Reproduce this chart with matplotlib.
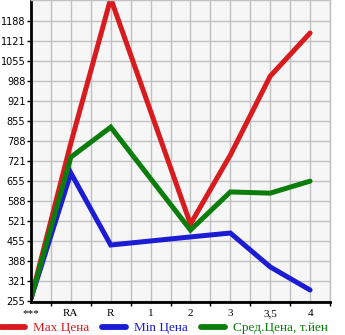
import matplotlib.pyplot as plt
import numpy as np

categories = ["***", "RA", "R", "1", "2", "3", "3,5", "4"]
max_price = [262, 780, 1262, np.nan, 510, 740, 1003, 1147]
min_price = [262, 680, 440, np.nan, 467, 480, 367, 290]
avg_price = [262, 733, 833, np.nan, 490, 617, 613, 653]

ytick_values = [255 + 66.667 * k for k in range(15)]
ytick_labels = ["255", "321", "388", "455", "521", "588", "655", "721",
                "788", "855", "921", "988", "1055", "1121", "1188"]

series = [
    (max_price, "#d81b1e", "Max Цена"),
    (min_price, "#1c1cd4", "Min Цена"),
    (avg_price, "#0b7d0b", "Сред.Цена, т.йен"),
]

fig = plt.figure(figsize=(3.45, 3.35), dpi=100)
ax = fig.add_axes([31 / 345, 33 / 335, 299 / 345, 302 / 335])
ax.set_facecolor("#f6f6f6")

x = np.arange(len(categories))
for vals, color, label in series:
    v = np.array(vals, dtype=float)
    ok = ~np.isnan(v)
    ax.plot(x[ok], v[ok], color=color, lw=3.6, label=label,
            solid_capstyle="round", solid_joinstyle="miter")

ax.set_xlim(0, 7.5)
ax.set_ylim(250, 1257)
ax.set_xticks(x)
ax.set_xticklabels(categories, fontsize=8, family="Liberation Serif")
ax.set_xticks(x + 0.5, minor=True)
ax.set_yticks(ytick_values)
ax.set_yticklabels(ytick_labels, fontsize=7, family="DejaVu Sans")
ax.tick_params(axis="x", which="major", length=0, pad=5)
ax.tick_params(axis="x", which="minor", length=3, width=1)
ax.tick_params(axis="y", length=3, width=1, pad=1)

ax.grid(True, which="both", axis="x", color="#c0c0c0", lw=1)
ax.grid(True, which="major", axis="y", color="#c0c0c0", lw=1)
ax.set_axisbelow(True)

for side in ["left", "bottom"]:
    ax.spines[side].set_linewidth(2)
    ax.spines[side].set_color("black")
for side in ["top", "right"]:
    ax.spines[side].set_color("#c0c0c0")
    ax.spines[side].set_linewidth(1)

leg = fig.legend(loc="lower center", bbox_to_anchor=(0.477, -0.033), ncol=3,
                 frameon=False, handlelength=1.8, handletextpad=0.6,
                 columnspacing=1.0, prop={"family": "Liberation Serif", "size": 9.5})
for line in leg.get_lines():
    line.set_linewidth(4.2)
for txt, (_, color, _) in zip(leg.get_texts(), series):
    txt.set_color(color)

fig.savefig("out.png", dpi=100)
plt.close()
